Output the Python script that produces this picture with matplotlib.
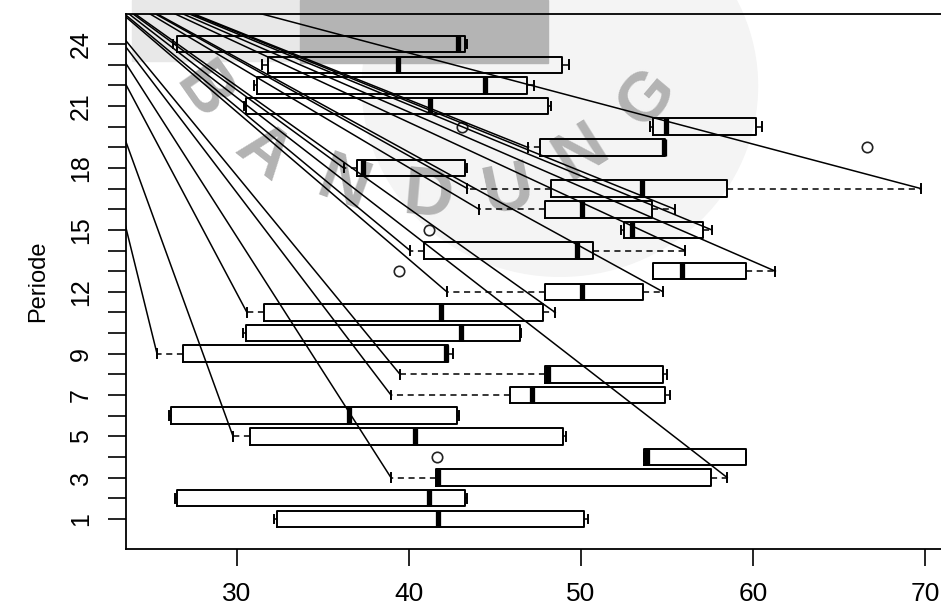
import matplotlib
matplotlib.use("Agg")
import matplotlib.pyplot as plt
from matplotlib.patches import Rectangle, Ellipse

plt.rcParams['font.family'] = ['Liberation Sans', 'DejaVu Sans']

# values (one box per period)
periode = list(range(1, 25))
whis_lo = [32.15, 26.4, 38.95, 53.66, 29.77, 26.05, 38.95, 39.48, 25.35, 30.35, 30.58, 42.2,
           54.2, 40.06, 52.3, 44.07, 43.4, 36.2, 46.9, 54.0, 30.4, 31.0, 31.45, 26.3]
q1 = [32.3, 26.5, 41.57, 53.66, 30.76, 26.16, 45.9, 47.9, 26.86, 30.5, 31.57, 47.9,
      54.2, 40.87, 52.5, 47.9, 48.26, 37.0, 47.6, 54.2, 30.5, 31.16, 31.8, 26.5]
median = [41.7, 41.16, 41.7, 53.85, 40.35, 36.5, 47.15, 48.1, 42.15, 43.0, 41.86, 50.06,
          55.9, 49.77, 52.96, 50.06, 53.55, 37.3, 54.8, 54.94, 41.2, 44.4, 39.36, 42.85]
q3 = [50.17, 43.26, 57.56, 59.6, 48.95, 42.8, 54.9, 54.77, 42.27, 46.45, 47.8, 53.6,
      59.6, 50.7, 57.1, 54.1, 58.5, 43.26, 54.9, 60.2, 48.1, 46.86, 48.9, 43.26]
whis_hi = [50.4, 43.4, 58.5, 59.6, 49.1, 42.9, 55.2, 55.0, 42.56, 46.5, 48.5, 54.77,
           61.3, 56.05, 57.6, 55.46, 69.77, 43.4, 54.9, 60.5, 48.26, 47.27, 49.3, 43.4]
outliers = {4: [41.6], 13: [39.4], 15: [41.16], 19: [66.6], 20: [43.1]}
label_ticks = [1, 3, 5, 7, 9, 12, 15, 18, 21, 24]

fig = plt.figure(figsize=(9.41, 6.14), dpi=100)

# scanned watermark behind the plot
fig.patches.append(Ellipse((0.595, 0.86), 0.42, 0.62, transform=fig.transFigure,
                           color='#f4f4f4', zorder=-3))
fig.patches.append(Rectangle((0.14, 0.90), 0.18, 0.10, transform=fig.transFigure,
                             color='#e8e8e8', zorder=-2))
fig.patches.append(Rectangle((0.319, 0.897), 0.263, 0.103, transform=fig.transFigure,
                             color='#b4b4b4', zorder=-2))
letters = [('B', 0.215, 0.85, -55), ('A', 0.28, 0.75, -38), ('N', 0.365, 0.698, -20),
           ('D', 0.455, 0.678, -5), ('U', 0.54, 0.69, 12), ('N', 0.618, 0.752, 32),
           ('G', 0.688, 0.84, 50)]
for ch, fx, fy, rot in letters:
    fig.text(fx, fy, ch, fontsize=50, color='#b3b3b3', rotation=rot, fontweight='bold',
             ha='center', va='center', zorder=-1)

ax = fig.add_axes([126.4 / 941, 1 - 549 / 614, 1 - 126.4 / 941, (549 - 14) / 614])
ax.set_facecolor('none')
ax.set_zorder(1)

stats = []
for i, p in enumerate(periode):
    stats.append(dict(whislo=whis_lo[i], q1=q1[i], med=median[i], q3=q3[i],
                      whishi=whis_hi[i], fliers=outliers.get(p, [])))

ax.bxp(stats, positions=periode, vert=False, widths=0.8, capwidths=0.42,
       boxprops=dict(color='black', linewidth=1.4),
       medianprops=dict(color='black', linewidth=3.8, solid_capstyle='butt'),
       whiskerprops=dict(color='black', linewidth=1.1, linestyle=(0, (4, 3))),
       capprops=dict(color='black', linewidth=1.4),
       flierprops=dict(marker='o', markerfacecolor='none', markeredgecolor='#222222',
                       markersize=7.5, markeredgewidth=1.2))

xlim = (23.57, 70.93)
ylim = (-0.46, 25.46)
ax.set_xlim(xlim)
ax.set_ylim(ylim)

# broken whisker strokes of the scan: long lines from one point up-left
ox = xlim[0] + (-0.0815) * (xlim[1] - xlim[0])
oy = ylim[0] + 1.10 * (ylim[1] - ylim[0])
for i, p in enumerate(periode):
    if q1[i] - whis_lo[i] > 0.45:
        ax.plot([ox, whis_lo[i]], [oy, p], color='black', linewidth=1.1)
    if whis_hi[i] - q3[i] > 0.45:
        ax.plot([ox, whis_hi[i]], [oy, p], color='black', linewidth=1.1)

ax.set_xticks([30, 40, 50, 60, 70])
ax.set_xticklabels(['30', '40', '50', '60', '70'], fontsize=19)
ax.set_yticks(periode)
ax.set_yticklabels([str(p) if p in label_ticks else '' for p in periode],
                   fontsize=18, rotation=90, va='center')
ax.tick_params(axis='x', length=12, width=1.2, pad=12)
ax.tick_params(axis='y', length=13, width=1.2, pad=11)
ax.set_ylabel('Periode', fontsize=17, labelpad=14)

for side in ['left', 'bottom', 'top']:
    ax.spines[side].set_linewidth(1.3)
ax.spines['right'].set_visible(False)

fig.savefig('out.png', dpi=100)
